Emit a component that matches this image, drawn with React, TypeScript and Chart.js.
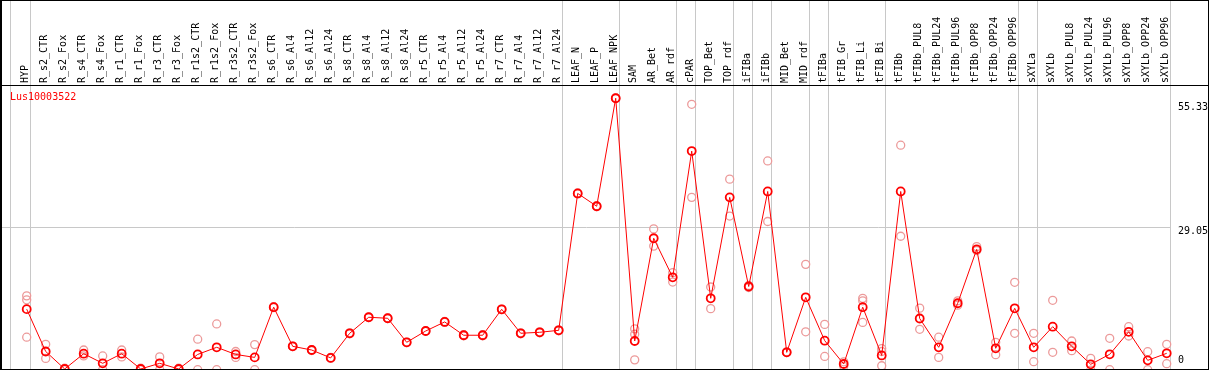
import React, { useEffect, useRef } from 'react';
import { Chart, registerables } from 'chart.js';

Chart.register(...registerables);

const chartTitle = 'Lus10003522';

const categories = [
  'HYP', 'R_s2_CTR', 'R_s2_Fox', 'R_s4_CTR', 'R_s4_Fox', 'R_r1_CTR', 'R_r1_Fox', 'R_r3_CTR', 'R_r3_Fox',
  'R_r1s2_CTR', 'R_r1s2_Fox', 'R_r3s2_CTR', 'R_r3s2_Fox', 'R_s6_CTR', 'R_s6_Al4', 'R_s6_Al12', 'R_s6_Al24',
  'R_s8_CTR', 'R_s8_Al4', 'R_s8_Al12', 'R_s8_Al24', 'R_r5_CTR', 'R_r5_Al4', 'R_r5_Al12', 'R_r5_Al24',
  'R_r7_CTR', 'R_r7_Al4', 'R_r7_Al12', 'R_r7_Al24', 'LEAF_N', 'LEAF_P', 'LEAF_NPK', 'SAM', 'AR_Bet', 'AR_rdf',
  'cPAR', 'TOP_Bet', 'TOP_rdf', 'iFIBa', 'iFIBb', 'MID_Bet', 'MID_rdf', 'tFIBa', 'tFIB_Gr', 'tFIB_Li', 'tFIB_Bi',
  'tFIBb', 'tFIBb_PUL8', 'tFIBb_PUL24', 'tFIBb_PUL96', 'tFIBb_OPP8', 'tFIBb_OPP24', 'tFIBb_OPP96', 'sXYLa',
  'sXYLb', 'sXYLb_PUL8', 'sXYLb_PUL24', 'sXYLb_PUL96', 'sXYLb_OPP8', 'sXYLb_OPP24', 'sXYLb_OPP96',
];

const meanValues = [
  12.5, 3.9, 0.35, 3.45, 1.5, 3.45, 0.35, 1.5, 0.35,
  3.3, 4.75, 3.3, 2.7, 12.9, 4.95, 4.2, 2.6,
  7.6, 10.85, 10.65, 5.77, 8.06, 9.9, 7.2, 7.2,
  12.47, 7.6, 7.8, 8.2, 36.0, 33.4, 55.33, 6.03, 26.9, 18.97,
  44.6, 14.7, 35.2, 17.1, 36.4, 3.73, 14.9, 6.1, 1.36, 12.9, 3.1,
  36.4, 10.6, 4.75, 13.7, 24.65, 4.55, 12.67, 4.75,
  8.94, 4.95, 1.3, 3.33, 7.9, 2.1, 3.53,
];

const repA = [
  15.2, 5.36, 0.5, 4.2, 3.0, 4.2, 0.5, 2.8, 0.5,
  6.4, 9.5, 3.9, 5.3, 13.0, 5.0, 4.3, 2.7,
  7.7, 10.9, 10.7, 5.8, 8.1, 10.0, 7.3, 7.3,
  12.5, 7.7, 7.9, 8.3, 36.1, 33.5, 55.4, 8.5, 28.8, 19.9,
  54.1, 17.0, 38.9, 17.3, 42.6, 3.8, 21.6, 9.4, 1.8, 14.7, 4.5,
  45.8, 12.7, 6.8, 14.2, 25.2, 5.77, 17.95, 7.6,
  14.3, 6.03, 2.5, 6.58, 8.94, 3.86, 5.36,
];

const repB = [
  6.8, 2.5, 0.2, 3.0, 0.2, 2.8, 0.2, 0.2, 0.2,
  0.2, 0.2, 2.7, 0.2, 12.8, 4.9, 4.1, 2.5,
  7.5, 10.8, 10.6, 5.7, 8.0, 9.8, 7.1, 7.1,
  12.4, 7.5, 7.7, 8.1, 35.9, 33.3, 55.3, 2.2, 25.3, 18.0,
  35.2, 12.6, 31.4, 16.9, 30.3, 3.7, 7.9, 2.9, 0.9, 9.8, 1.0,
  27.3, 8.4, 2.7, 13.3, 24.4, 3.25, 7.6, 1.83,
  3.73, 4.06, 0.1, 0.2, 7.05, 0.2, 1.42,
];

const repC: (number | null)[] = [
  14.4, null, null, null, null, null, null, null, null,
  null, null, null, null, null, null, null, null,
  null, null, null, null, null, null, null, null,
  null, null, null, null, null, null, null, 7.4, null, null,
  null, null, null, null, null, null, null, null, null, 14.2, 3.9,
  null, null, null, null, null, null, null, null,
  null, null, null, null, null, null, null,
];

const yTickValues = [0, 29.05, 55.33];
const yTickLabels = ['0', '29.05', '55.33'];

// index of the last category of each group (a separator follows it)
const groupLastIndex = [0, 28, 31, 34, 35, 37, 38, 39, 41, 42, 45, 52, 53, 60];

const FAMILY = '"DejaVu Sans Mono", "Liberation Mono", monospace';
const FONT = '10px ' + FAMILY;
const RED = '#ff0000';
const PINK = '#ec9a9a';
const GRAY = '#c8c8c8';

const framePlugin = {
  id: 'frame',
  beforeDatasetsDraw(chart: any) {
    const ctx = chart.ctx;
    const xs = chart.scales.x;
    const bottom = chart.chartArea.bottom;
    const positions = [
      xs.getPixelForValue(0) - 16,
      ...groupLastIndex.map((i) => xs.getPixelForValue(i) + 4),
    ];
    ctx.save();
    ctx.strokeStyle = GRAY;
    ctx.lineWidth = 1;
    for (const p of positions) {
      const xx = Math.floor(p) + 0.5;
      ctx.beginPath();
      ctx.moveTo(xx, 0);
      ctx.lineTo(xx, bottom);
      ctx.stroke();
    }
    ctx.restore();
  },
  afterDraw(chart: any) {
    const ctx = chart.ctx;
    const W = chart.width;
    const H = chart.height;
    const area = chart.chartArea;
    const ys = chart.scales.y;
    ctx.save();
    // title
    ctx.fillStyle = RED;
    ctx.font = FONT;
    ctx.textAlign = 'left';
    ctx.textBaseline = 'middle';
    ctx.fillText(chartTitle, 10, area.top + 12);
    // y tick labels
    ctx.fillStyle = '#000';
    ctx.textAlign = 'left';
    const maxV = Math.max(...yTickValues);
    yTickValues.forEach((v, i) => {
      const py = ys.getPixelForValue(v);
      let yy = py + 4;
      if (v === maxV) yy = py + 9;
      if (v === 0) yy = py - 10;
      ctx.fillText(yTickLabels[i], area.right + 7, yy);
    });
    // frame
    ctx.fillStyle = '#000';
    ctx.fillRect(0, 0, W, 1);
    ctx.fillRect(0, 0, 2, H);
    ctx.fillRect(W - 1, 0, 1, H);
    ctx.fillRect(0, H - 1, W, 1);
    ctx.fillRect(0, area.top, W, 1);
    ctx.restore();
  },
};

function toPoints(arr: (number | null)[]) {
  const out: { x: number; y: number }[] = [];
  arr.forEach((v, i) => {
    if (v !== null && v !== undefined) out.push({ x: i, y: v });
  });
  return out;
}

export default function App() {
  const ref = useRef<HTMLCanvasElement | null>(null);

  useEffect(() => {
    document.body.style.margin = '0';
    const canvas = ref.current;
    if (!canvas) return;
    const repStyle = {
      showLine: false,
      pointRadius: 4,
      pointBorderWidth: 1.3,
      pointBorderColor: PINK,
      pointBackgroundColor: 'rgba(0,0,0,0)',
      borderColor: PINK,
      clip: false as any,
      order: 1,
    };
    const chart = new Chart(canvas, {
      type: 'line',
      data: {
        datasets: [
          {
            data: toPoints(meanValues),
            borderColor: RED,
            borderWidth: 1,
            pointRadius: 4,
            pointBorderWidth: 1.8,
            pointBorderColor: RED,
            pointBackgroundColor: 'rgba(0,0,0,0)',
            tension: 0,
            clip: false as any,
            order: 0,
          },
          { data: toPoints(repA), ...repStyle },
          { data: toPoints(repB), ...repStyle },
          { data: toPoints(repC), ...repStyle },
        ],
      },
      options: {
        animation: false,
        responsive: false,
        maintainAspectRatio: false,
        devicePixelRatio: 1,
        events: [],
        layout: { autoPadding: false, padding: { left: 2, right: 0, top: 0, bottom: 1 } },
        plugins: { legend: { display: false }, tooltip: { enabled: false }, title: { display: false } },
        scales: {
          x: {
            type: 'linear',
            position: 'top',
            min: -1.3,
            max: 60.226,
            afterBuildTicks: (scale: any) => {
              scale.ticks = categories.map((_, i) => ({ value: i }));
            },
            afterFit: (scale: any) => {
              scale.height = 85;
              scale.paddingLeft = 0;
              scale.paddingRight = 0;
            },
            grid: { display: false, drawTicks: false },
            border: { display: false },
            ticks: {
              autoSkip: false,
              minRotation: 90,
              maxRotation: 90,
              padding: 2,
              labelOffset: 11,
              color: '#000',
              font: { family: FAMILY, size: 10 },
              callback: (_v: any, i: number) => categories[i],
            },
          },
          y: {
            type: 'linear',
            position: 'right',
            min: 0.345,
            max: 58.02,
            afterBuildTicks: (scale: any) => {
              scale.ticks = yTickValues.map((v) => ({ value: v }));
            },
            afterFit: (scale: any) => {
              scale.width = 38;
            },
            grid: {
              drawTicks: false,
              lineWidth: 1,
              color: (c: any) => (c.tick && c.tick.value === 29.05 ? GRAY : 'rgba(0,0,0,0)'),
            },
            border: { display: false },
            ticks: { display: false },
          },
        },
      },
      plugins: [framePlugin],
    });
    return () => chart.destroy();
  }, []);

  return <canvas ref={ref} width={1209} height={370} style={{ display: 'block', width: 1209, height: 370 }} />;
}
